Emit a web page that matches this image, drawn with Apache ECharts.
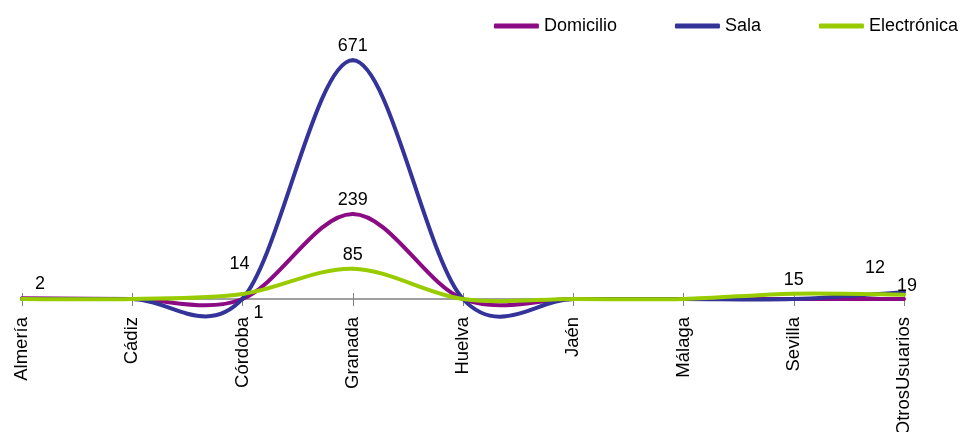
<!DOCTYPE html>
<html><head><meta charset="utf-8">
<script src="https://cdn.jsdelivr.net/npm/echarts@6/dist/echarts.min.js"></script>
<style>html,body{margin:0;padding:0;background:#fff}#c{width:965px;height:432px}</style>
</head><body><div id="c"></div>
<script>
const categories = ['Almería','Cádiz','Córdoba','Granada','Huelva','Jaén','Málaga','Sevilla','OtrosUsuarios'];
const domicilio   = [2, 0, 0, 239, 0, 0, 0, 0, 0];
const sala        = [0, 0, 1, 671, 0, 0, 0, 0, 19];
const electronica = [0, 0, 14, 85, 0, 0, 0, 15, 12];

const FONT = '"Liberation Sans",Arial,sans-serif';
const COLORS = {Domicilio: '#8B0B84', Sala: '#333399', 'Electrónica': '#99CC00'};
// label placement tweaks (style only), keyed by category index
const labelTweaks = {
  Domicilio: {0: {offset: [18, 0]}},
  Sala: {2: {position: 'bottom', offset: [16, 0]}, 8: {offset: [3, 8]}},
  'Electrónica': {2: {offset: [-3, -16]}, 8: {offset: [-29, -13]}}
};
function build(name, arr) {
  return arr.map((v, i) => {
    const t = (labelTweaks[name] || {})[i];
    return t ? {value: v, label: Object.assign({show: true}, t)} : {value: v};
  });
}
// Invisible line series: carries the data labels
function labelSeries(name, arr) {
  const color = COLORS[name];
  return {
    name, type: 'line', symbol: 'circle', symbolSize: 0, showSymbol: true, z: 5,
    data: build(name, arr),
    lineStyle: {width: 4, color, opacity: 0}, itemStyle: {color},
    label: {show: true, position: 'top', distance: 5, color: '#000', fontSize: 18, fontFamily: FONT,
      formatter: p => (Number(p.value) === 0 ? '' : String(p.value))}
  };
}
// Spline (Catmull-Rom / Excel-style) drawn through the axes' coordinate system
function curveSeries(name, arr) {
  const color = COLORS[name];
  return {
    name, type: 'custom', z: 3, silent: true,
    data: arr.map((v, i) => [i, v]),
    renderItem: function (params, api) {
      const i = params.dataIndex;
      const n = arr.length;
      if (i >= n - 1) return null;
      const P = k => { const j = Math.max(0, Math.min(n - 1, k)); return api.coord([j, arr[j]]); };
      const p0 = P(i - 1), p1 = P(i), p2 = P(i + 1), p3 = P(i + 2);
      return {
        type: 'bezierCurve',
        shape: {
          x1: p1[0], y1: p1[1], x2: p2[0], y2: p2[1],
          cpx1: p1[0] + (p2[0] - p0[0]) / 6, cpy1: p1[1] + (p2[1] - p0[1]) / 6,
          cpx2: p2[0] - (p3[0] - p1[0]) / 6, cpy2: p2[1] - (p3[1] - p1[1]) / 6
        },
        style: {stroke: color, lineWidth: 4, fill: null, lineCap: 'round'}
      };
    }
  };
}
const names = ['Domicilio', 'Sala', 'Electrónica'];
const arrays = [domicilio, sala, electronica];
const chart = echarts.init(document.getElementById('c'));
chart.setOption({
  animation: false,
  textStyle: {fontFamily: FONT},
  legend: {
    right: 2, top: 12, itemWidth: 45, itemHeight: 5, itemGap: 58, icon: 'roundRect',
    textStyle: {fontSize: 18, color: '#000', fontFamily: FONT},
    data: names.map(n => ({name: n, itemStyle: {color: COLORS[n], opacity: 1}}))
  },
  grid: {left: 22, right: 61, top: 50, bottom: 133, containLabel: false, outerBoundsMode: 'none'},
  xAxis: [{
    type: 'category', data: categories, boundaryGap: false, position: 'bottom',
    axisLine: {lineStyle: {color: '#808080', width: 1.5}},
    axisTick: {show: true, length: 7, lineStyle: {color: '#808080'}},
    axisLabel: {rotate: 90, fontSize: 18.5, color: '#000', margin: 18, fontFamily: FONT, interval: 0}
  }, {
    // inner half of the crossing tick marks
    type: 'category', data: categories, boundaryGap: false, position: 'bottom', offset: 0,
    axisLine: {show: false},
    axisTick: {show: true, inside: true, length: 6, lineStyle: {color: '#808080'}},
    axisLabel: {show: false}
  }],
  yAxis: {type: 'value', min: 0, max: 700, show: false, splitLine: {show: false}},
  series: names.map((n, k) => curveSeries(n, arrays[k]))
    .concat(names.map((n, k) => labelSeries(n, arrays[k])))
});
</script></body></html>
